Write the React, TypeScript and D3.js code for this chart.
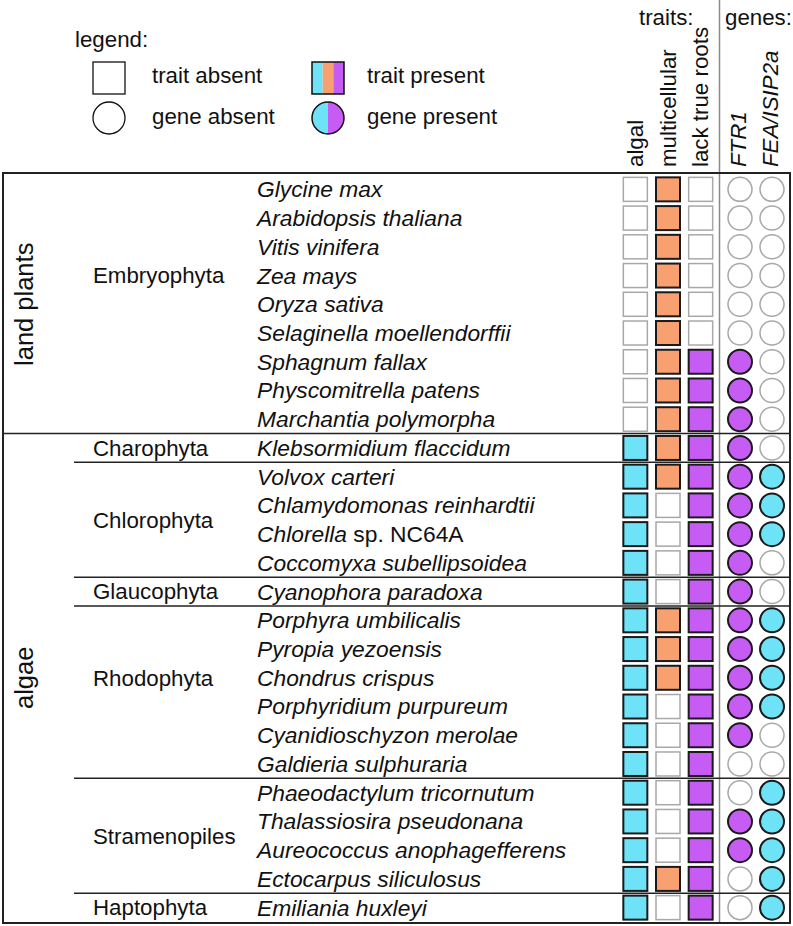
import React from "react";
import * as d3 from "d3";

const species = [
  "Glycine max", "Arabidopsis thaliana", "Vitis vinifera", "Zea mays", "Oryza sativa",
  "Selaginella moellendorffii", "Sphagnum fallax", "Physcomitrella patens", "Marchantia polymorpha",
  "Klebsormidium flaccidum", "Volvox carteri", "Chlamydomonas reinhardtii", "Chlorella sp. NC64A",
  "Coccomyxa subellipsoidea", "Cyanophora paradoxa", "Porphyra umbilicalis", "Pyropia yezoensis",
  "Chondrus crispus", "Porphyridium purpureum", "Cyanidioschyzon merolae", "Galdieria sulphuraria",
  "Phaeodactylum tricornutum", "Thalassiosira pseudonana", "Aureococcus anophagefferens",
  "Ectocarpus siliculosus", "Emiliania huxleyi",
];

const traitNames = ["algal", "multicellular", "lack true roots"];
const geneNames = ["FTR1", "FEA/ISIP2a"];

const algal = [0,0,0,0,0,0,0,0,0,1,1,1,1,1,1,1,1,1,1,1,1,1,1,1,1,1];
const multicellular = [1,1,1,1,1,1,1,1,1,1,1,0,0,0,0,1,1,1,0,0,0,0,0,0,1,0];
const lackRoots = [0,0,0,0,0,0,1,1,1,1,1,1,1,1,1,1,1,1,1,1,1,1,1,1,1,1];
const ftr1 = [0,0,0,0,0,0,1,1,1,1,1,1,1,1,1,1,1,1,1,1,0,0,1,1,0,0];
const fea = [0,0,0,0,0,0,0,0,0,0,1,1,1,0,0,1,1,1,1,0,0,1,1,1,1,1];

// group name, first row, last row, row at which label sits
const groups: [string, number, number, number][] = [
  ["Embryophyta", 0, 8, 3],
  ["Charophyta", 9, 9, 9],
  ["Chlorophyta", 10, 13, 11.5],
  ["Glaucophyta", 14, 14, 14],
  ["Rhodophyta", 15, 20, 17],
  ["Stramenopiles", 21, 24, 22.5],
  ["Haptophyta", 25, 25, 25],
];
const superGroups: [string, number, number][] = [
  ["land plants", 0, 8],
  ["algae", 9, 25],
];

const traitColors = ["#6ee2f6", "#f9a070", "#c65cf4"];
const geneColors = ["#c65cf4", "#6ee2f6"];
const FONT = "'Liberation Sans', Arial, Helvetica, sans-serif";

export default function App() {
  const W = 793, H = 926;
  const top = 173, bottom = 923, left = 3, right = 790;
  const y = d3.scaleBand<string>().domain(species).range([175, 922]);
  const xT = d3.scaleBand<string>().domain(traitNames).range([619, 717]);
  const xG = d3.scaleBand<string>().domain(geneNames).range([724, 788]);
  const traitData = [algal, multicellular, lackRoots];
  const geneData = [ftr1, fea];
  const yc = (i: number) => (y(species[i]) as number) + y.bandwidth() / 2;
  const rowTop = (i: number) => y(species[i]) as number;
  const sq = 24;
  const fs = 22.3;

  const speciesLabel = (s: string) => {
    if (s.startsWith("Chlorella")) {
      return (
        <>
          <tspan fontStyle="italic">Chlorella</tspan>
          <tspan> sp. NC64A</tspan>
        </>
      );
    }
    return <tspan fontStyle="italic">{s}</tspan>;
  };

  return (
    <svg width={W} height={H} style={{ position: "absolute", left: 0, top: 0, background: "#fff" }} fontFamily={FONT}>
      <rect width={W} height={H} fill="#fff" />
      {/* legend */}
      <text x={75} y={47} fontSize={fs} fill="#111">legend:</text>
      <rect x={93} y={62} width={32} height={32} fill="#fff" stroke="#111" strokeWidth={1.3} />
      <text x={152} y={83} fontSize={fs} fill="#111">trait absent</text>
      <circle cx={109} cy={118} r={16} fill="#fff" stroke="#111" strokeWidth={1.3} />
      <text x={152} y={124} fontSize={fs} fill="#111">gene absent</text>
      {traitColors.map((c, i) => (
        <rect key={c} x={312 + (32 / 3) * i} y={62} width={32 / 3} height={32} fill={c} />
      ))}
      <rect x={312} y={62} width={32} height={32} fill="none" stroke="#111" strokeWidth={1.5} />
      <path d={`M328,102 A16,16 0 0,0 328,134 Z`} fill={traitColors[0]} />
      <path d={`M328,102 A16,16 0 0,1 328,134 Z`} fill={traitColors[2]} />
      <circle cx={328} cy={118} r={16} fill="none" stroke="#111" strokeWidth={1.5} />
      <text x={367} y={83} fontSize={fs} fill="#111">trait present</text>
      <text x={367} y={124} fontSize={fs} fill="#111">gene present</text>

      {/* headers */}
      <text x={639} y={25} fontSize={fs} fill="#111">traits:</text>
      <text x={725} y={25} fontSize={fs} fill="#111">genes:</text>
      {traitNames.map((t) => {
        const cx = (xT(t) as number) + xT.bandwidth() / 2;
        return (
          <text key={t} transform={`translate(${cx + 7.5},167) rotate(-90)`} fontSize={fs} fill="#111">{t}</text>
        );
      })}
      {geneNames.map((g) => {
        const cx = (xG(g) as number) + xG.bandwidth() / 2;
        return (
          <text key={g} transform={`translate(${cx + 6},167) rotate(-90)`} fontSize={fs} fontStyle="italic" fill="#111">{g}</text>
        );
      })}

      {/* vertical gray separator */}
      <line x1={719.5} x2={719.5} y1={0} y2={bottom} stroke="#8a8a8a" strokeWidth={1.5} />

      {/* separators */}
      {groups.slice(1).map(([name, s]) => (
        <line key={name} x1={name === "Charophyta" ? left : 74} x2={right} y1={rowTop(s)} y2={rowTop(s)} stroke="#222" strokeWidth={1.5} />
      ))}

      {/* super group labels */}
      {superGroups.map(([name, s, e]) => {
        const cy = (yc(s) + yc(e)) / 2;
        return (
          <text key={name} transform={`translate(33,${cy}) rotate(-90)`} textAnchor="middle" fontSize={25.5} fill="#111">{name}</text>
        );
      })}

      {/* group labels */}
      {groups.map(([name, , , lr]) => {
        const cy = 175 + y.step() * (lr + 0.5);
        return (
          <text key={name} x={93} y={cy} dy="0.35em" fontSize={fs} fill="#111">{name}</text>
        );
      })}

      {/* species */}
      {species.map((s, i) => (
        <text key={s} x={257} y={yc(i)} dy="0.35em" fontSize={22.8} fill="#111">{speciesLabel(s)}</text>
      ))}

      {/* trait squares */}
      {traitNames.map((t, j) =>
        species.map((s, i) => {
          const on = traitData[j][i] === 1;
          const cx = (xT(t) as number) + xT.bandwidth() / 2;
          return (
            <rect key={t + s} x={cx - sq / 2} y={yc(i) - sq / 2} width={sq} height={sq}
              fill={on ? traitColors[j] : "#fff"} stroke={on ? "#1a1a1a" : "#a8a8a8"} strokeWidth={on ? 2 : 1.5} />
          );
        })
      )}

      {/* gene circles */}
      {geneNames.map((g, j) =>
        species.map((s, i) => {
          const on = geneData[j][i] === 1;
          const cx = (xG(g) as number) + xG.bandwidth() / 2;
          return (
            <circle key={g + s} cx={cx} cy={yc(i)} r={sq / 2}
              fill={on ? geneColors[j] : "#fff"} stroke={on ? "#1a1a1a" : "#a8a8a8"} strokeWidth={on ? 2 : 1.5} />
          );
        })
      )}

      {/* border */}
      <rect x={left} y={top} width={right - left} height={bottom - top} fill="none" stroke="#222" strokeWidth={2} />
    </svg>
  );
}
